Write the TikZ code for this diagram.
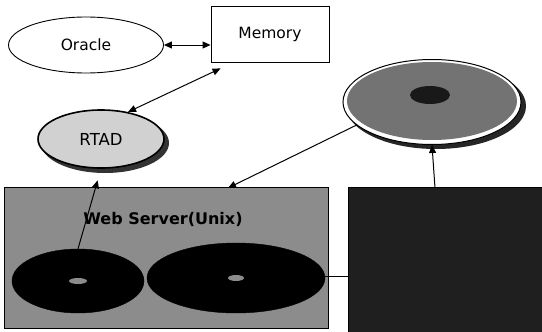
\documentclass[tikz,border=0pt]{standalone}
\usepackage{fontspec}
\setmainfont{DejaVu Sans}
\usetikzlibrary{shapes.geometric,arrows.meta,calc}
\begin{document}
\begin{tikzpicture}[x=1pt,y=-1pt,
  conn/.style={draw=black,line width=1pt},
  tipl/.style={-{Triangle[length=8pt,width=7pt]}},
  tipb/.style={{Triangle[length=8pt,width=7pt]}-{Triangle[length=8pt,width=7pt]}},
  oval/.style={ellipse,draw=black,inner sep=0pt},
  lbl/.style={font=\fontsize{15.5}{17}\selectfont}]
\useasboundingbox (0,0) rectangle (542,332);
\fill[white] (0,0) rectangle (542,332);
% top row
\node[oval,line width=0.9pt,fill=white,minimum width=155pt,minimum height=56pt,lbl] (oracle) at (86,45) {Oracle};
\node[draw=black,line width=0.9pt,fill=white,minimum width=118pt,minimum height=56pt,lbl] (memory) at (270,34) {Memory};
% RTAD
\fill[black!80] (105,143) ellipse [x radius=64pt,y radius=30pt];
\node[oval,line width=1.6pt,fill=black!18,minimum width=126pt,minimum height=58pt,font=\fontsize{16.5}{18}\selectfont] (rtad) at (101,139) {RTAD};
% dish
\fill[black!85] (436,106) ellipse [x radius=90pt,y radius=43pt];
\node[oval,line width=1pt,fill=white,minimum width=178pt,minimum height=85pt] (dish) at (432,102) {};
\fill[black!55] (432,101) ellipse [x radius=85pt,y radius=39pt];
\fill[black!90] (430,95) ellipse [x radius=20pt,y radius=9pt];
% boxes
\node[draw=black,line width=1pt,fill=black!45,minimum width=324pt,minimum height=141pt,inner sep=0pt] (lbox) at (166,258) {};
\node[draw=black,line width=1pt,fill=black!88,minimum width=195pt,minimum height=146pt,inner sep=0pt] (rbox) at (445.5,260) {};
\node[font=\bfseries\fontsize{16}{18}\selectfont,text=black] (ws) at (163,219) {Web Server(Unix)};
\node[oval,fill=black,minimum width=132pt,minimum height=64pt] (ldisk) at (78,281) {};
\node[oval,fill=black,minimum width=178pt,minimum height=70pt] (rdisk) at (236,278) {};
\fill[black!45] (ldisk.center) ellipse [x radius=9pt,y radius=3pt];
\fill[black!45] (rdisk.center) ellipse [x radius=8pt,y radius=3pt];
% connector end points
\coordinate (lboxin) at (228,188);
\coordinate (rboxtop) at (435,188);
% connectors
\draw[conn,tipb] (oracle.east) -- (oracle.east -| memory.west);
\draw[conn,tipb] (rtad.45) -- ($(memory.south west)+(10,6)$);
\draw[conn,tipl] (dish.197) -- (lboxin);
\draw[conn,tipl] (rboxtop) -- (dish.south);
\draw[conn,tipl,shorten >=12pt] (ldisk.north) -- (rtad.south);
\draw[conn] (rdisk.east |- 0,276) -- (rbox.west |- 0,276);
\end{tikzpicture}
\end{document}
